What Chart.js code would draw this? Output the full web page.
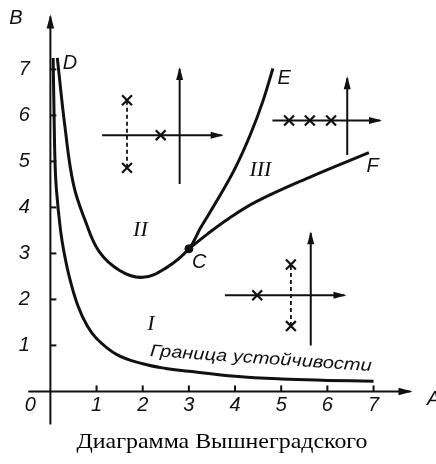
<!DOCTYPE html>
<html>
<head>
<meta charset="utf-8">
<script src="https://cdn.jsdelivr.net/npm/chart.js@4"></script>
<style>
  html, body { margin: 0; padding: 0; background: #fff; }
  #wrap { width: 436px; height: 464px; position: relative; }
</style>
</head>
<body>
<div id="wrap"><canvas id="chart"></canvas></div>
<script>
// Curve I: stability boundary
const boundaryA = [0.06, 0.08, 0.10, 0.13, 0.22, 0.30, 0.42, 0.60, 0.80, 1.00, 1.44, 2.00, 2.50, 3.00, 4.00, 5.00, 6.00, 7.00];
const boundaryB = [7.25, 6.00, 5.00, 4.40, 3.50, 3.00, 2.45, 1.85, 1.42, 1.15, 0.80, 0.60, 0.50, 0.44, 0.33, 0.27, 0.24, 0.22];

// Curve D-C-E
const dceA = [0.15, 0.31, 0.50, 0.76, 1.05, 1.50, 2.00, 2.50, 3.00, 3.25, 3.58, 4.00, 4.33, 4.60, 4.82];
const dceB = [7.25, 5.80, 4.50, 3.70, 3.05, 2.63, 2.48, 2.68, 3.10, 3.55, 4.10, 4.85, 5.58, 6.30, 7.02];

// Curve C-F
const cfA = [3.00, 3.40, 3.85, 4.47, 5.65, 6.90];
const cfB = [3.10, 3.42, 3.75, 4.13, 4.67, 5.19];

const pointC = [3.00, 3.10];

// axis ticks
const tickValues = [1, 2, 3, 4, 5, 6, 7];
const xTickLabels = ['1', '2', '3', '4', '5', '6', '7'];
const yTickLabels = ['1', '2', '3', '4', '5', '6', '7'];

// small root-plane sketches: axis segments [A0, B0, A1, B1], crosses [A, B]
const sketchAxes = [
  [1.12, 5.57, 3.71, 5.57], [2.80, 4.51, 2.80, 7.01],
  [4.81, 5.89, 7.14, 5.89], [6.43, 5.14, 6.43, 6.81],
  [3.78, 2.09, 6.37, 2.09], [5.64, 1.00, 5.64, 3.44]
];
const sketchDashes = [
  [1.66, 4.86, 1.66, 6.33],
  [5.21, 1.42, 5.21, 2.76]
];
const sketchCrossA = [2.39, 1.66, 1.66, 5.17, 5.62, 6.08, 4.48, 5.21, 5.21];
const sketchCrossB = [5.57, 6.33, 4.86, 5.89, 5.89, 5.89, 2.09, 2.76, 1.42];

// text annotations
const regionNames = ['I', 'II', 'III'];
const curveNames = ['C', 'D', 'E', 'F'];
const boundaryText = 'Граница устойчивости';
const caption = 'Диаграмма Вышнеградского';

// pixel layout of the picture
const X0PX = 43, UX = 48.2, Y0PX = 398, UY = 47.9;
const W = 436, H = 464;
const INK = '#111';

const regionPos = [[2.18, 1.45], [1.95, 3.5], [4.55, 4.8]];
const curvePos = [[3.2, 2.8], [0.4, 7.13], [5.05, 6.8], [6.98, 4.9]];

function pts(as, bs) {
  return as.map((a, i) => ({ x: a, y: bs[i] }));
}

const datasets = [
  { data: pts(boundaryA, boundaryB), borderWidth: 3, tension: 0.4 },
  { data: pts(dceA, dceB), borderWidth: 3, tension: 0.4 },
  { data: pts(cfA, cfB), borderWidth: 3, tension: 0.4 },
  // main axes
  { data: [{ x: -0.48, y: 0 }, { x: 7.8, y: 0 }], borderWidth: 2, arrow: 14 },
  { data: [{ x: 0, y: -0.72 }, { x: 0, y: 8.15 }], borderWidth: 2, arrow: 14 }
].map(d => Object.assign({
  borderColor: INK, backgroundColor: INK, pointRadius: 0, showLine: true
}, d));

sketchAxes.forEach(s => datasets.push({
  data: [{ x: s[0], y: s[1] }, { x: s[2], y: s[3] }],
  borderColor: INK, borderWidth: 2, pointRadius: 0, showLine: true, arrow: 13
}));
sketchDashes.forEach(s => datasets.push({
  data: [{ x: s[0], y: s[1] }, { x: s[2], y: s[3] }],
  borderColor: INK, borderWidth: 1.8, borderDash: [4, 3], pointRadius: 0, showLine: true
}));
datasets.push({
  data: pts(sketchCrossA, sketchCrossB),
  pointStyle: 'crossRot', pointRadius: 7, borderWidth: 2.2, borderColor: INK, showLine: false
});
datasets.push({
  data: [{ x: pointC[0], y: pointC[1] }],
  pointRadius: 4, backgroundColor: INK, borderColor: INK, showLine: false
});

const decorations = {
  id: 'decorations',
  beforeDraw(chart) {
    const ctx = chart.ctx;
    ctx.save();
    ctx.fillStyle = '#fff';
    ctx.fillRect(0, 0, chart.width, chart.height);
    ctx.restore();
  },
  afterDatasetsDraw(chart) {
    const ctx = chart.ctx;
    const xs = chart.scales.x, ys = chart.scales.y;
    const px0 = xs.getPixelForValue(0), py0 = ys.getPixelForValue(0);
    ctx.save();
    ctx.fillStyle = INK;
    ctx.strokeStyle = INK;

    // arrow heads
    chart.data.datasets.forEach((ds, i) => {
      if (!ds.arrow) return;
      const el = chart.getDatasetMeta(i).data;
      const p = el[el.length - 1], q = el[el.length - 2];
      const ang = Math.atan2(p.y - q.y, p.x - q.x);
      const len = ds.arrow, hw = ds.arrow * 0.27;
      ctx.save();
      ctx.translate(p.x, p.y);
      ctx.rotate(ang);
      ctx.beginPath();
      ctx.moveTo(2, 0);
      ctx.lineTo(2 - len, -hw);
      ctx.lineTo(2 - len, hw);
      ctx.closePath();
      ctx.fill();
      ctx.restore();
    });

    // ticks
    ctx.lineWidth = 2;
    tickValues.forEach(v => {
      const x = xs.getPixelForValue(v);
      ctx.beginPath(); ctx.moveTo(x, py0); ctx.lineTo(x, py0 - 6); ctx.stroke();
      const y = ys.getPixelForValue(v);
      ctx.beginPath(); ctx.moveTo(px0, y); ctx.lineTo(px0 + 6, y); ctx.stroke();
    });

    // tick labels
    ctx.font = 'italic 20px "Liberation Sans"';
    ctx.textAlign = 'center';
    ctx.textBaseline = 'middle';
    xTickLabels.forEach((t, i) => ctx.fillText(t, xs.getPixelForValue(tickValues[i]), py0 + 14));
    ctx.fillText('0', px0 - 20, py0 + 14);
    yTickLabels.forEach((t, i) => ctx.fillText(t, px0 - 26, ys.getPixelForValue(tickValues[i])));
    ctx.fillText('B', 16, 18);
    ctx.textAlign = 'left';
    ctx.fillText('A', 427, py0 + 8);

    // curve letters
    curveNames.forEach((t, i) => {
      ctx.fillText(t, xs.getPixelForValue(curvePos[i][0]) - 6, ys.getPixelForValue(curvePos[i][1]));
    });

    // region numerals
    ctx.font = 'italic 22px "Liberation Serif"';
    ctx.textAlign = 'center';
    regionNames.forEach((t, i) => {
      ctx.fillText(t, xs.getPixelForValue(regionPos[i][0]), ys.getPixelForValue(regionPos[i][1]));
    });

    // text along the stability boundary
    ctx.save();
    ctx.font = 'italic 17px "Liberation Sans"';
    const tw = ctx.measureText(boundaryText).width;
    ctx.translate(xs.getPixelForValue(4.56), ys.getPixelForValue(0.71));
    ctx.rotate(3.9 * Math.PI / 180);
    ctx.scale(222 / tw, 1);
    ctx.fillText(boundaryText, 0, 0);
    ctx.restore();

    // caption
    ctx.save();
    ctx.font = '22px "Liberation Serif"';
    ctx.textAlign = 'center';
    ctx.textBaseline = 'alphabetic';
    ctx.fillStyle = '#000';
    const cw = ctx.measureText(caption).width;
    ctx.translate(222, 448);
    ctx.scale(291 / cw, 1);
    ctx.fillText(caption, 0, 0);
    ctx.restore();
    ctx.restore();
  }
};

new Chart(document.getElementById('chart'), {
  type: 'scatter',
  data: { datasets },
  options: {
    responsive: true,
    maintainAspectRatio: false,
    animation: false,
    events: [],
    layout: { padding: 0 },
    scales: {
      x: { type: 'linear', display: false, min: -X0PX / UX, max: (W - X0PX) / UX },
      y: { type: 'linear', display: false, min: -(H - Y0PX) / UY, max: Y0PX / UY }
    },
    plugins: { legend: { display: false }, tooltip: { enabled: false } }
  },
  plugins: [decorations]
});
</script>
</body>
</html>
